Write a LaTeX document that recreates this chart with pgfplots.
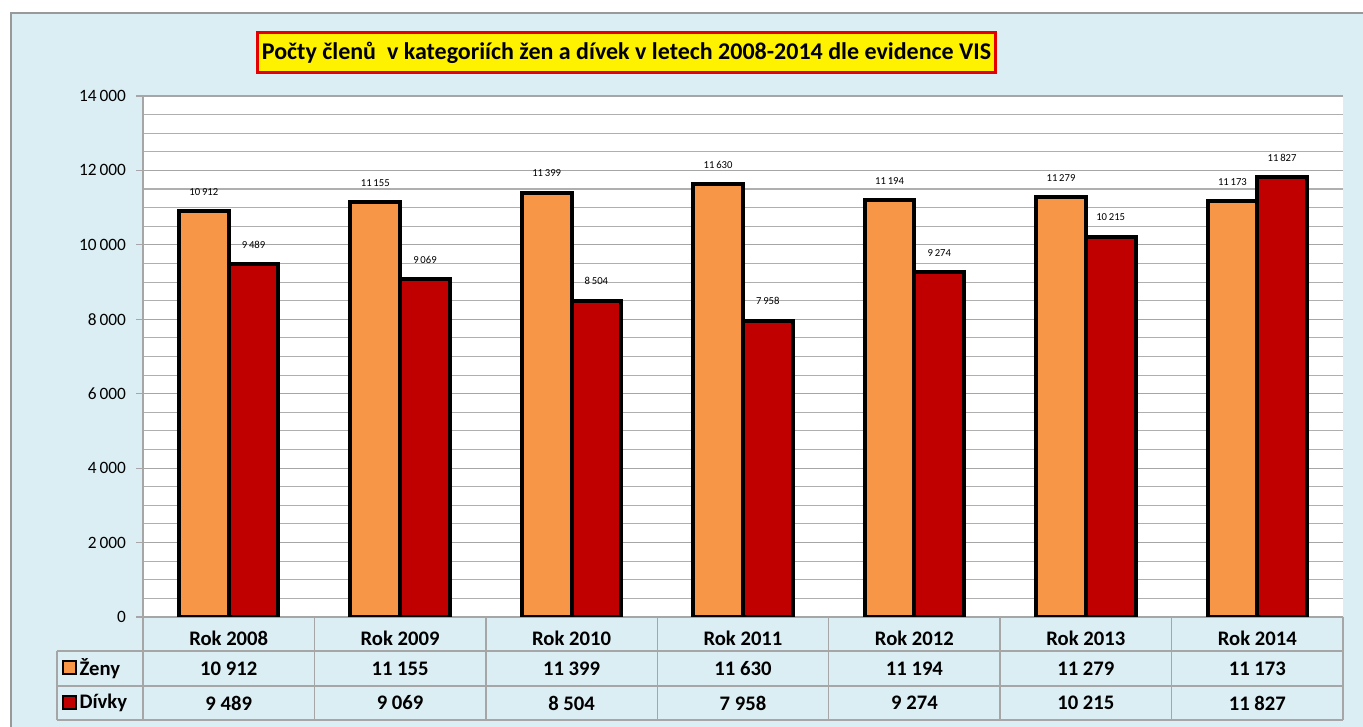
\documentclass[border=0pt]{standalone}
\usepackage{fontspec}
\setmainfont{Carlito}
\usepackage{pgfplots}
\usepackage{pgfplotstable}
\pgfplotsset{compat=1.18}

\definecolor{bgblue}{HTML}{DBEEF4}
\definecolor{zeny}{HTML}{F79646}
\definecolor{divky}{HTML}{C00000}
\definecolor{rule}{HTML}{A6A6A6}
\newcommand{\tabfont}{\fontsize{15.5}{18}\selectfont\bfseries}

% pocty clenek podle evidence VIS
\pgfplotstableread{
x zeny divky
0 10912 9489
1 11155 9069
2 11399 8504
3 11630 7958
4 11194 9274
5 11279 10215
6 11173 11827
}\datatable

\begin{document}
\begin{tikzpicture}[x=0.75pt,y=0.75pt]
\useasboundingbox (0,0) rectangle (1363,727);
\fill[white] (0,0) rectangle (1363,727);
\fill[bgblue] (11,0) rectangle (1363,714);
\draw[gray!80, line width=1.5pt] (11,0) -- (11,714) -- (1363,714);

\begin{axis}[
    at={(107.25pt,82.5pt)}, anchor=south west,
    scale only axis, width=900pt, height=390.75pt,
    xmin=-0.5, xmax=6.5, ymin=0, ymax=14000,
    ybar=0pt, bar width=0.29,
    axis background/.style={fill=white},
    axis x line*=bottom, axis y line*=left,
    axis line style={rule, line width=0.9pt, -},
    xtick=data,
    xticklabels={Rok 2008,Rok 2009,Rok 2010,Rok 2011,Rok 2012,Rok 2013,Rok 2014},
    x tick style={draw=none},
    xticklabel style={font=\tabfont, yshift=-2pt},
    ytick={0,2000,...,14000}, minor y tick num=3,
    scaled y ticks=false,
    y tick style={rule, line width=0.9pt},
    major tick length=5.25pt, minor tick length=0pt,
    tick align=outside,
    ymajorgrids, yminorgrids,
    major grid style={rule, line width=0.9pt},
    minor grid style={rule!90, line width=0.8pt},
    yticklabel style={font=\fontsize{13}{15}\selectfont, xshift=-4pt},
    yticklabel={\pgfmathprintnumber[fixed, precision=0, 1000 sep={\,}]{\tick}},
    /pgf/number format/assume math mode=true,
    nodes near coords={\pgfmathprintnumber[fixed, precision=0, 1000 sep={\,}]{\pgfplotspointmeta}},
    every node near coord/.append style={font=\fontsize{8}{9}\selectfont, text=black, yshift=7pt},
]
\addplot[fill=zeny, draw=black, line width=3pt] table[x=x, y=zeny] {\datatable};
\addplot[fill=divky, draw=black, line width=3pt] table[x=x, y=divky] {\datatable};
\end{axis}

% tabulka hodnot
\begin{scope}[rule, line width=1pt]
  \foreach \k in {0,...,7} \draw (143+171.43*\k,110) -- (143+171.43*\k,7);
  \draw (57,76) -- (1343,76);
  \draw (57,41) -- (1343,41);
  \draw (57,7) -- (1343,7);
  \draw (57,76) -- (57,7);
\end{scope}
\foreach \v [count=\i from 0] in {10 912,11 155,11 399,11 630,11 194,11 279,11 173}
  \node[font=\tabfont] at (143+171.43*\i+85.7,58.5) {\v};
\foreach \v [count=\i from 0] in {9 489,9 069,8 504,7 958,9 274,10 215,11 827}
  \node[font=\tabfont] at (143+171.43*\i+85.7,24) {\v};
\filldraw[fill=zeny, draw=black, line width=1.5pt] (63,53) rectangle (76,66);
\filldraw[fill=divky, draw=black, line width=1.5pt] (63,18) rectangle (76,31);
\node[font=\tabfont, anchor=west, inner sep=1pt] at (78,58.5) {Ženy};
\node[font=\tabfont, anchor=west, inner sep=1pt] at (78,24) {Dívky};

% nadpis
\node[fill=yellow, draw=red!90!black, line width=2.25pt, minimum height=30pt,
      inner xsep=3pt, font=\fontsize{18}{21}\selectfont\bfseries]
  at (626.5,674) {Počty členů\ \ v kategoriích žen a dívek v letech 2008-2014 dle evidence VIS};
\end{tikzpicture}
\end{document}
